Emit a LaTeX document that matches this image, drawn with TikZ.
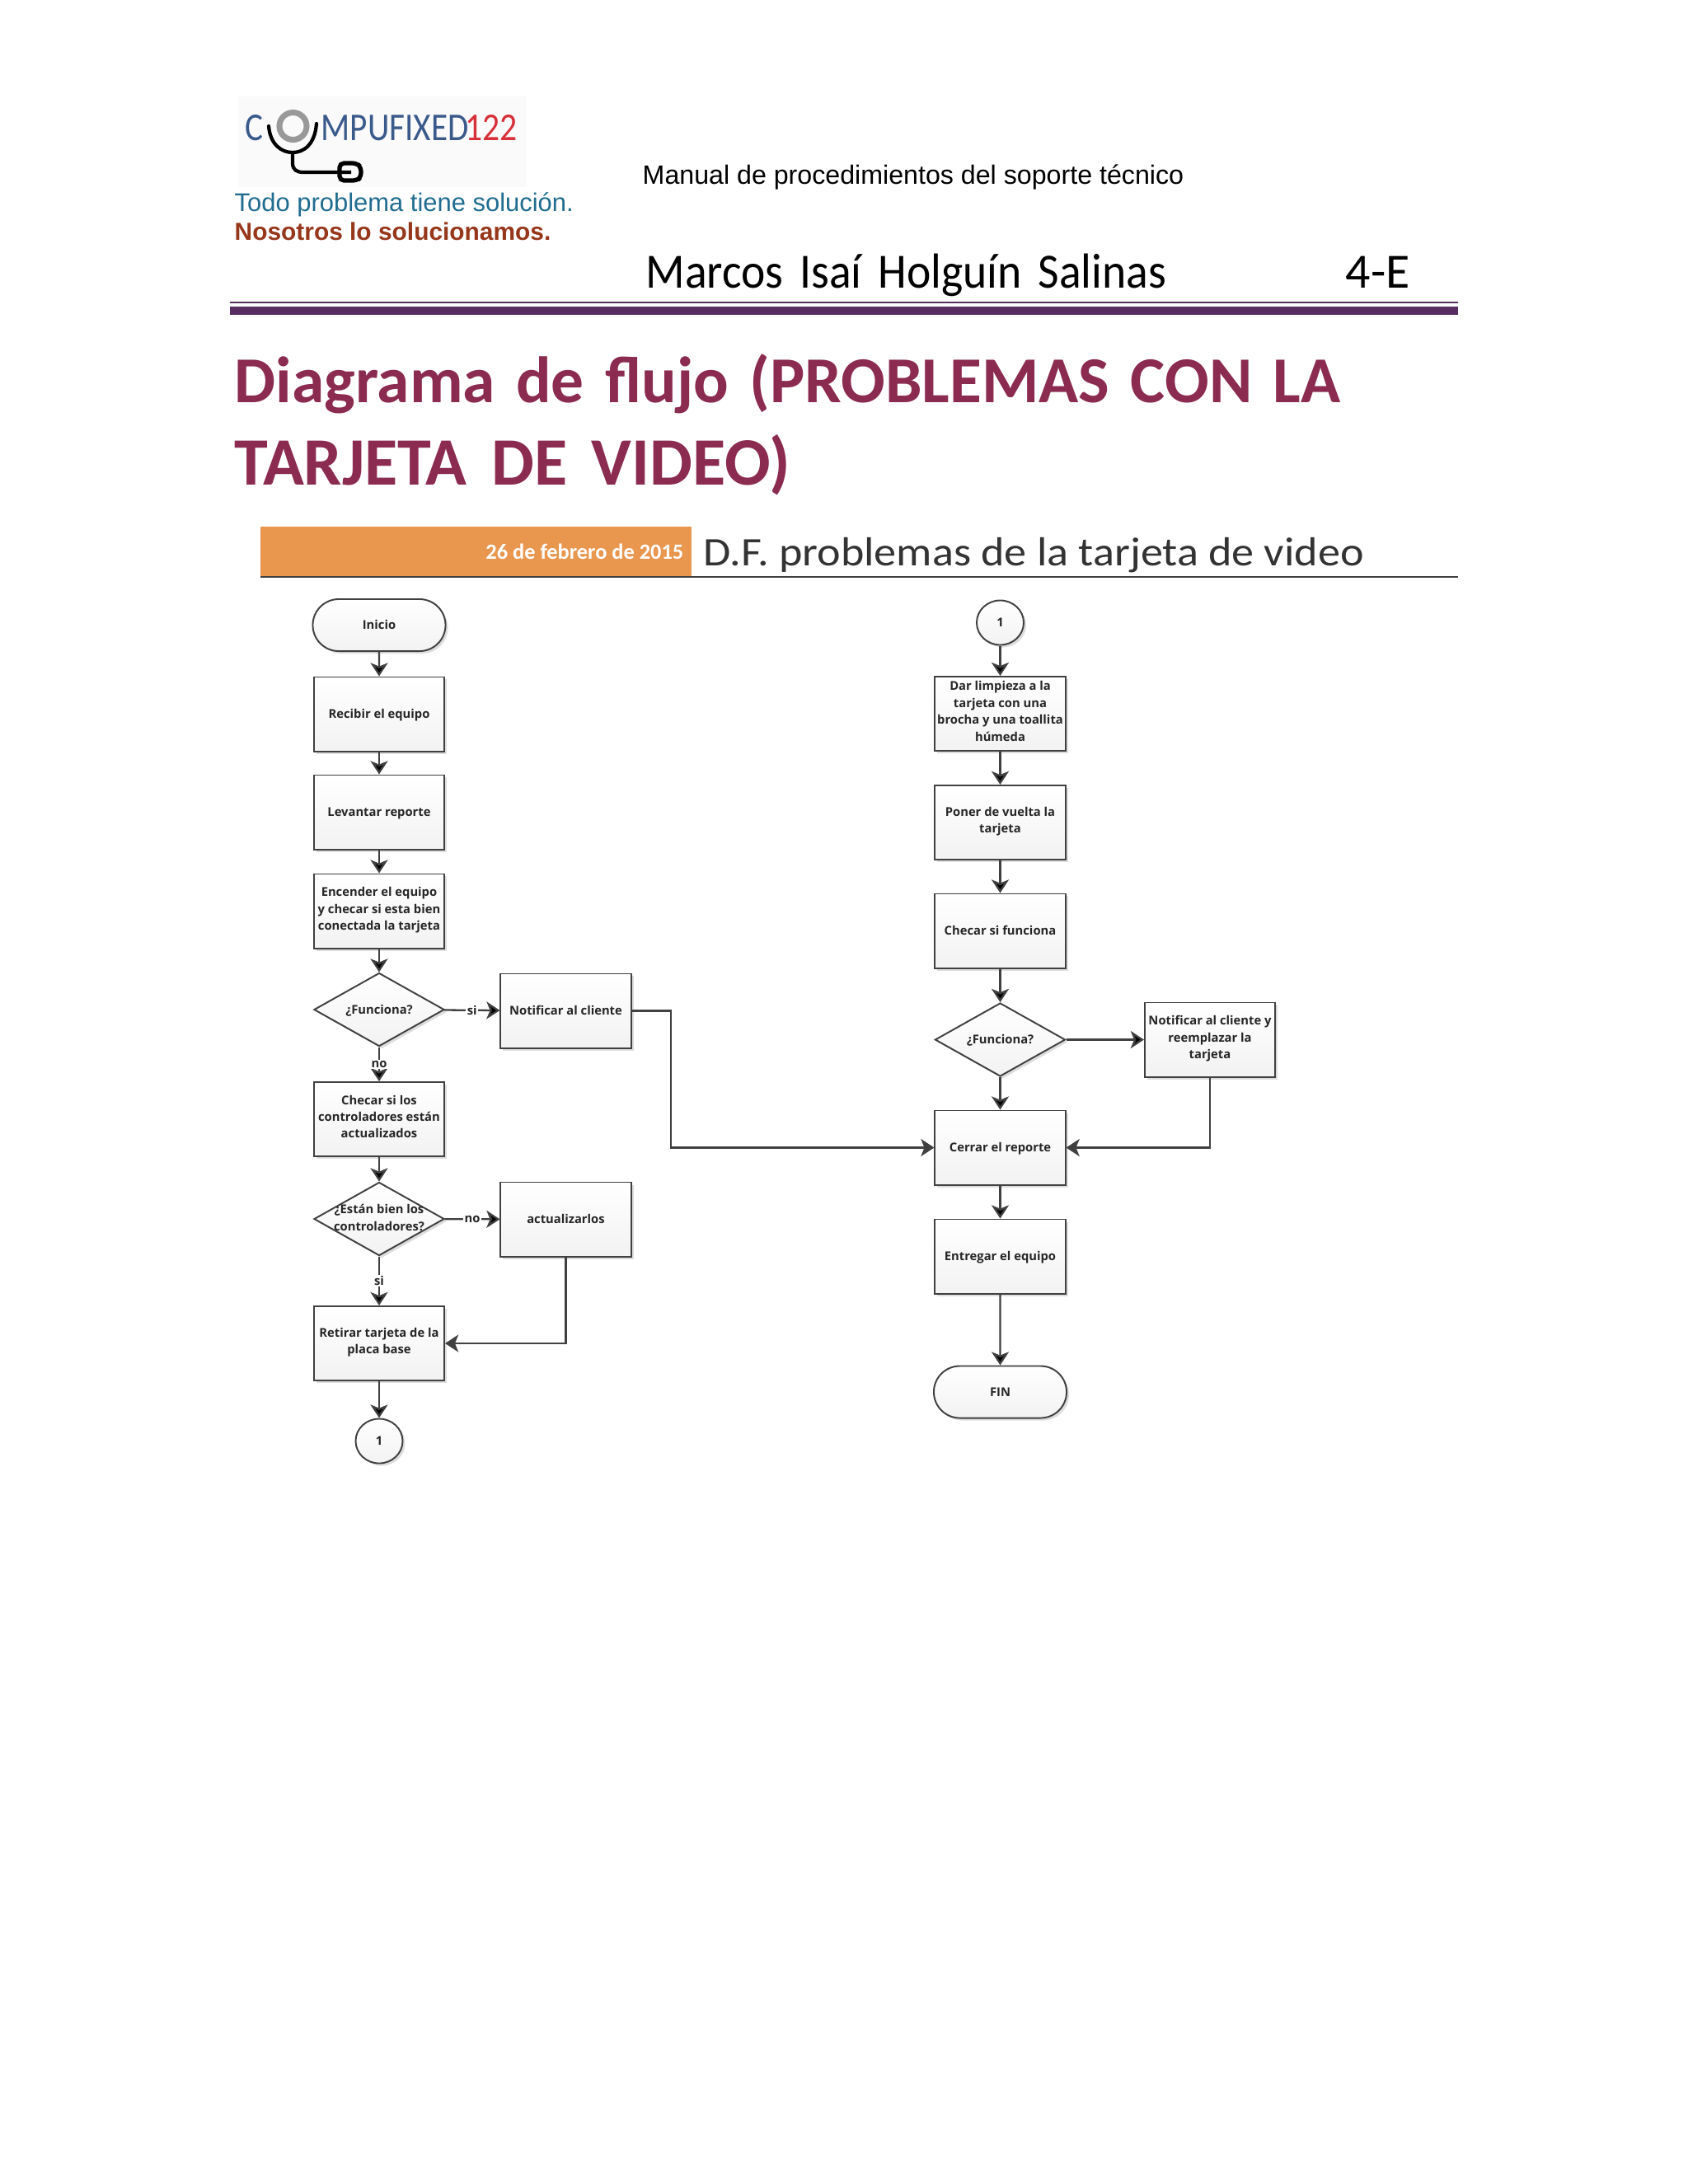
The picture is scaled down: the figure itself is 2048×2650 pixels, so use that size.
\documentclass[tikz,border=0pt]{standalone}
\usepackage{fontspec}
\setmainfont{Liberation Sans}
\newfontfamily\carlito{Carlito}
\newfontfamily\opensans{Open Sans}
\usetikzlibrary{arrows.meta,shapes.geometric,shapes.misc,shadows}
\definecolor{morado}{HTML}{5A2D62}
\definecolor{vino}{HTML}{8B2B50}
\definecolor{naranja}{HTML}{E9964F}
\definecolor{linea}{HTML}{404040}
\definecolor{azul}{HTML}{3B5A8C}
\definecolor{rojo}{HTML}{D8303A}
\definecolor{lema}{HTML}{1F6C8F}
\definecolor{ladrillo}{HTML}{96361A}
\newcommand{\ancho}[1]{\spaceskip=#1em\relax}

\begin{document}
\begin{tikzpicture}[x=0.01cm,y=-0.01cm]
    \tikzstyle{base} = [draw=linea, line width=0.55pt, top color=white, bottom color=black!5,
        drop shadow={shadow xshift=0.03cm,shadow yshift=-0.03cm,fill=black!22,opacity=.6},
        inner sep=0pt, align=center, font=\opensans\bfseries\fontsize{4.2}{5.8}\selectfont, text=black!85,
        execute at begin node={\rule[-1.74pt]{0pt}{6.4pt}}]
    \tikzstyle{caja} = [base, rectangle, minimum width=1.58cm, minimum height=0.9cm]
    \tikzstyle{lineas} = [caja, execute at begin node={\rule[-1.74pt]{0pt}{7.6pt}}]
    \tikzstyle{rombo} = [base, diamond, aspect=1.77, minimum width=1.58cm, minimum height=0.89cm]
    \tikzstyle{term} = [base, rounded rectangle, minimum width=1.61cm, minimum height=0.63cm]
    \tikzstyle{conector} = [base, ellipse, minimum width=0.57cm, minimum height=0.54cm]
    \tikzstyle{flecha} = [draw=linea, line width=0.65pt, -{Stealth[length=4.6pt,width=6pt,inset=1.2pt]}]
    \tikzstyle{etiq} = [fill=white, inner sep=0.4pt, font=\opensans\bfseries\fontsize{4.2}{5}\selectfont, text=black!85]
    \tikzstyle{ann} = [anchor=base west, inner sep=0pt]

    \useasboundingbox (0,0) rectangle (2048,2650);

    % logo
    \fill[black!2] (289,117) rectangle (639,227);
    \node[ann, text=azul, font=\carlito\fontsize{13.6}{14}\selectfont] (31) at (297,170) {\scalebox{0.86}[1]{C}};
    \node[ann, text=azul, font=\carlito\fontsize{13.6}{14}\selectfont] (32) at (389,170) {\scalebox{0.86}[1]{MPUFIXED}};
    \node[ann, text=rojo, font=\carlito\fontsize{13.6}{14}\selectfont] (33) at (564,170) {\scalebox{0.87}[1]{122}};
    \draw[black!40, line width=2pt] (355.5,153) circle (0.165cm);
    \draw[black, line width=1.2pt, line cap=round] (326,153) .. controls (328,176) and (342,185) .. (355,185)
        .. controls (368,185) and (382,176) .. (384,150);
    \draw[black, line width=1.2pt] (355,185) -- (355,198) .. controls (355,206) and (360,209) .. (368,209) -- (426,209);
    \draw[black, line width=1.5pt, rounded corners=1.5pt] (412,198) -- (433,198) -- (438,203) -- (438,215) -- (433,219) -- (412,219) -- cycle;

    \node[ann, text=lema, font=\fontsize{8.8}{10}\selectfont] (34) at (284,256) {Todo problema tiene solución.};
    \node[ann, text=ladrillo, font=\bfseries\fontsize{8.5}{10}\selectfont] (35) at (284,291) {Nosotros lo solucionamos.};

    % encabezado
    \node[ann, font=\fontsize{9.15}{10}\selectfont] (36) at (779,223) {Manual de procedimientos del soporte técnico};
    \node[ann, font=\carlito\fontsize{17}{18}\selectfont] (37) at (783,349) {\scalebox{0.93}[1]{\ancho{0.36}Marcos Isaí Holguín Salinas}};
    \node[ann, font=\carlito\fontsize{17}{18}\selectfont] (38) at (1632,349) {4-E};
    \fill[morado] (279,366) rectangle (1769,368);
    \fill[morado] (279,372) rectangle (1769,382);

    \node[ann, text=vino, font=\carlito\bfseries\fontsize{22.6}{25}\selectfont] (39) at (284,488) {\ancho{0.32}Diagrama de flujo (PROBLEMAS CON LA};
    \node[ann, text=vino, font=\carlito\bfseries\fontsize{23.4}{25}\selectfont] (40) at (284,588) {\ancho{0.36}TARJETA DE VIDEO)};

    \fill[naranja] (316,639) rectangle (839,699);
    \fill[linea] (316,699) rectangle (1769,701);
    \node[anchor=base east, inner sep=0pt, text=white, font=\carlito\bfseries\fontsize{7.5}{8}\selectfont] (41) at (830,678) {26 de febrero de 2015};
    \node[ann, text=black!80, font=\carlito\fontsize{14}{15}\selectfont] (42) at (853,686) {\scalebox{1.1}[1]{D.F. problemas de la tarjeta de video}};

    % columna izquierda
    \node[term] (1) at (460,758.5) {Inicio};
    \node[caja] (2) at (460,866.5) {Recibir el equipo};
    \node[caja] (3) at (460,985.5) {Levantar reporte};
    \node[lineas] (4) at (460,1105.5) {Encender el equipo\\y checar si esta bien\\conectada la tarjeta};
    \node[rombo] (5) at (460,1225) {¿Funciona?};
    \node[caja] (6) at (686.5,1226.5) {Notificar al cliente};
    \node[lineas] (7) at (460,1358) {Checar si los\\controladores están\\actualizados};
    \node[rombo] (8) at (460,1479) {\makebox[0pt]{\begin{tabular}{@{}c@{}}¿Están bien los\\controladores?\end{tabular}}};
    \node[caja] (9) at (686.5,1479.5) {actualizarlos};
    \node[lineas] (10) at (460,1630) {Retirar tarjeta de la\\placa base};
    \node[conector] (11) at (460,1748.5) {1};

    % columna derecha
    \node[conector] (12) at (1213.5,755.5) {1};
    \node[lineas] (13) at (1213.5,866) {Dar limpieza a la\\tarjeta con una\\brocha y una toallita\\húmeda};
    \node[lineas] (14) at (1213.5,998) {Poner de vuelta la\\tarjeta};
    \node[caja] (15) at (1213.5,1129.5) {Checar si funciona};
    \node[rombo] (16) at (1213.5,1261.5) {¿Funciona?};
    \node[lineas] (17) at (1468,1261.5) {Notificar al cliente y\\reemplazar la\\tarjeta};
    \node[caja] (18) at (1213.5,1392.5) {Cerrar el reporte};
    \node[caja] (19) at (1213.5,1524.5) {Entregar el equipo};
    \node[term] (20) at (1213.5,1689) {FIN};

    \coordinate (21) at (814,1226.5);

    \draw[flecha]  (1) edge node{} (2);
    \draw[flecha]  (2) edge node{} (3);
    \draw[flecha]  (3) edge node{} (4);
    \draw[flecha]  (4) edge node{} (5);
    \draw[flecha]  (5) edge node[etiq]{si} (6);
    \draw[flecha]  (5) edge node[etiq]{no} (7);
    \draw[flecha]  (7) edge node{} (8);
    \draw[flecha]  (8) edge node[etiq]{no} (9);
    \draw[flecha]  (8) edge node[etiq]{si} (10);
    \draw[flecha]  (10) edge node{} (11);
    \draw[flecha]  (9) |- (10);
    \draw[flecha]  (6) -- (21) |- (18);

    \draw[flecha]  (12) edge node{} (13);
    \draw[flecha]  (13) edge node{} (14);
    \draw[flecha]  (14) edge node{} (15);
    \draw[flecha]  (15) edge node{} (16);
    \draw[flecha]  (16) edge node{} (17);
    \draw[flecha]  (16) edge node{} (18);
    \draw[flecha]  (17) |- (18);
    \draw[flecha]  (18) edge node{} (19);
    \draw[flecha]  (19) edge node{} (20);

\end{tikzpicture}
\end{document}
